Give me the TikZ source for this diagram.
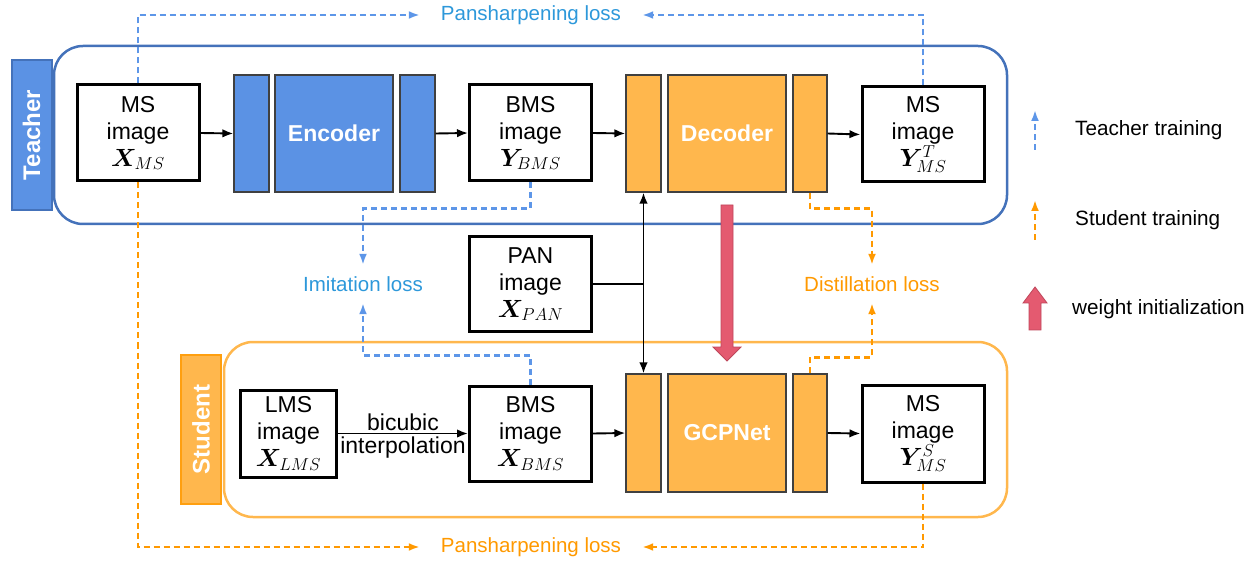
\documentclass[tikz,border=0pt]{standalone}
\usepackage{fontspec}
\setmainfont{Liberation Sans}
\usepackage{bm}
\usetikzlibrary{arrows.meta}
\definecolor{tblue}{RGB}{68,114,186}
\definecolor{bfill}{RGB}{91,146,228}
\definecolor{ofill}{RGB}{255,183,77}
\definecolor{odash}{RGB}{255,153,0}
\definecolor{bdashc}{RGB}{93,150,232}
\definecolor{btext}{RGB}{45,152,218}
\definecolor{redarr}{RGB}{228,90,112}
\definecolor{redline}{RGB}{190,70,90}
\begin{document}
\begin{tikzpicture}[x=1pt,y=-1pt,
  img/.style={draw=black, line width=3pt, fill=white, align=center, inner sep=0pt,
    font=\fontsize{23}{27}\selectfont, minimum width=122pt, minimum height=96pt},
  blk/.style={draw=black!75, line width=1.2pt, inner sep=0pt, minimum height=117pt},
  enc/.style={blk, fill=bfill},
  dec/.style={blk, fill=ofill},
  blab/.style={text=white, font=\bfseries\fontsize{23}{27}\selectfont},
  arr/.style={-{Latex[length=11pt,width=8.5pt]}, line width=1.9pt, draw=black},
  bd/.style={draw=bdashc, line width=2.5pt, dash pattern=on 6pt off 4pt, -{Latex[length=11pt,width=8pt]}},
  od/.style={draw=odash, line width=2.5pt, dash pattern=on 6pt off 4pt, -{Latex[length=11pt,width=8pt]}},
  losst/.style={font=\fontsize{20.5}{24}\selectfont, inner xsep=21pt, inner ysep=11.5pt},
  legt/.style={font=\fontsize{20.7}{24}\selectfont, anchor=west, inner sep=0pt},
  grp/.style={rounded corners=29pt, line width=2.5pt, inner sep=0pt},
  sidelab/.style={rotate=90, line width=2pt, text=white, font=\bfseries\fontsize{24}{28}\selectfont,
    minimum width=150pt, minimum height=40pt, inner sep=0pt},
  redshape/.style={draw=redline, fill=redarr, line width=0.8pt}
]
\useasboundingbox (0,0) rectangle (1253,561);

% groups
\node[grp, draw=tblue, minimum width=953pt, minimum height=178pt] (teacher) at (530.5,135) {};
\node[grp, draw=ofill, minimum width=783pt, minimum height=175pt] (student) at (615.5,429.5) {};
\node[sidelab, draw=tblue, fill=bfill] (tlab) at (31.5,135) {Teacher};
\node[sidelab, draw=odash!80!ofill, fill=ofill, minimum width=149pt] (slab) at (201,429.5) {Student};

% teacher row
\node[img] (ms) at (138,133) {MS\\image\\$\bm{X}_{MS}$};
\node[enc, minimum width=35pt] (e1) at (251.5,133.5) {};
\node[enc, minimum width=118pt, blab] (e2) at (334,133.5) {Encoder};
\node[enc, minimum width=35pt] (e3) at (417.5,133.5) {};
\node[img] (ybms) at (530.5,133) {BMS\\image\\$\bm{Y}_{BMS}$};
\node[dec, minimum width=35pt] (d1) at (643.5,133.5) {};
\node[dec, minimum width=118pt, blab] (d2) at (727,133.5) {Decoder};
\node[dec, minimum width=34pt] (d3) at (810,133.5) {};
\node[img, minimum height=95pt] (yT) at (923,134.5) {MS\\image\\$\bm{Y}^{T}_{MS}$};

% PAN
\node[img, minimum height=95pt] (pan) at (530.5,284) {PAN\\image\\$\bm{X}_{PAN}$};

% student row
\node[img, minimum width=96pt, minimum height=87pt] (lms) at (288.5,433.5) {LMS\\image\\$\bm{X}_{LMS}$};
\node[img, minimum height=95pt] (xbms) at (530.5,433.5) {BMS\\image\\$\bm{X}_{BMS}$};
\node[dec, minimum width=35pt, minimum height=118pt] (g1) at (643.5,433) {};
\node[dec, minimum width=118pt, minimum height=118pt, blab] (g2) at (727,433) {GCPNet};
\node[dec, minimum width=34pt, minimum height=118pt] (g3) at (810,433) {};
\node[img, minimum height=97pt] (yS) at (923,433.5) {MS\\image\\$\bm{Y}^{S}_{MS}$};

% solid arrows
\draw[arr] (ms.east) -- (e1.west);
\draw[arr] (e3.east) -- (ybms.west);
\draw[arr] (ybms.east) -- (d1.west);
\draw[arr] (d3.east) -- (yT.west);
\draw[arr] (lms.east) -- node[above, inner sep=2pt, font=\fontsize{23}{27}\selectfont]{bicubic}
  node[below, inner sep=2pt, font=\fontsize{23}{27}\selectfont]{interpolation} (xbms.west);
\draw[arr] (xbms.east) -- (g1.west);
\draw[arr] (g3.east) -- (yS.west);
\coordinate (j) at (d1.south |- pan.east);
\draw[line width=1.9pt] (pan.east) -- (j);
\draw[arr] (j) -- (d1.south);
\draw[arr] (j) -- (g1.north);

% losses
\node[losst, text=btext] (ptl) at (531,15) {Pansharpening loss};
\node[losst, text=odash] (pbl) at (531,547) {Pansharpening loss};
\node[losst, text=btext] (imi) at (363,284) {Imitation loss};
\node[losst, text=odash] (dis) at (872,284) {Distillation loss};

\draw[bd] (ms.north) |- (ptl.west);
\draw[bd] (yT.north) |- (ptl.east);
\draw[od] (ms.south) |- (pbl.west);
\draw[od] (yS.south) |- (pbl.east);
\draw[bd] (ybms.south) -- ++(0,26) -| (imi.north);
\draw[bd] (xbms.north) -- ++(0,-29) -| (imi.south);
\draw[od] (d3.south) -- ++(0,16) -| (dis.north);
\draw[od] (g3.north) -- ++(0,-16) -| (dis.south);

% weight initialization arrow
\draw[redshape] (721,205) -- (733,205) -- (733,347) -- (741,347) -- (727,361) -- (713,347) -- (721,347) -- cycle;

% legend
\coordinate (lb1) at (1035,150);
\coordinate (lb2) at (1035,110);
\coordinate (lo1) at (1035,240);
\coordinate (lo2) at (1035,200);
\draw[bd] (lb1) -- (lb2);
\draw[od] (lo1) -- (lo2);
\node[legt] (lt) at (1075,130) {Teacher training};
\node[legt] (ls) at (1075,220) {Student training};
\draw[redshape] (1029,330) -- (1041,330) -- (1041,303) -- (1047,303) -- (1035,287) -- (1023,303) -- (1029,303) -- cycle;
\node[legt] (lw) at (1072,309) {weight initialization};
\end{tikzpicture}
\end{document}
